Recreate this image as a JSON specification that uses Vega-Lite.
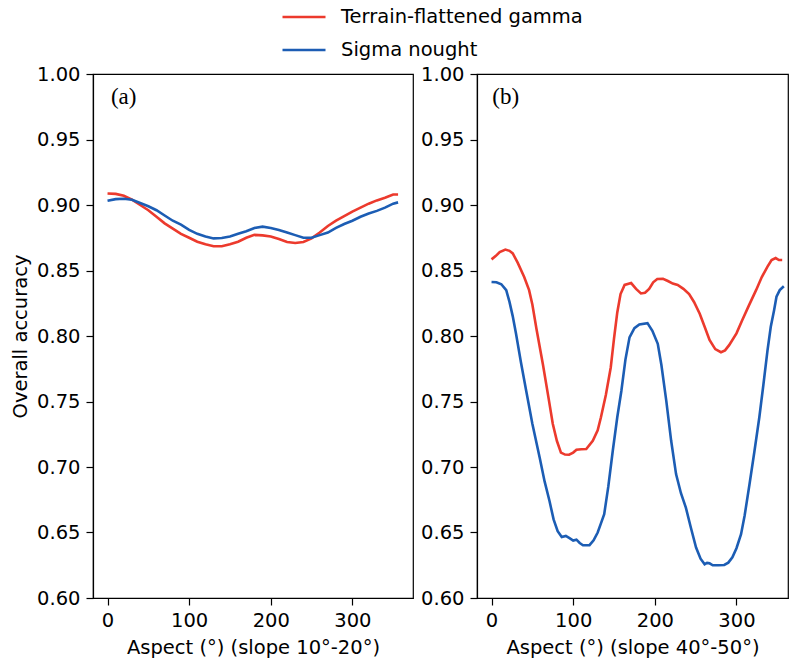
{
  "$schema": "https://vega.github.io/schema/vega-lite/v6.json",
  "background": "white",
  "padding": {"left": 9, "top": -6, "right": 0, "bottom": 0},
  "spacing": 5,
  "config": {
    "view": {"stroke": "black", "strokeWidth": 1.2},
    "font": "DejaVu Sans",
    "axis": {
      "labelFont": "DejaVu Sans", "labelFontSize": 19.5, "labelColor": "black",
      "titleFont": "DejaVu Sans", "titleFontSize": 19.5, "titleFontWeight": "normal", "titleColor": "black",
      "grid": false, "tickSize": 7, "tickColor": "black", "tickWidth": 1.2,
      "domainColor": "black", "domainWidth": 1.2, "labelPadding": 6
    },
    "legend": {
      "orient": "none", "legendX": 188, "legendY": -80,
      "labelFont": "DejaVu Sans", "labelFontSize": 19.5, "labelColor": "black", "labelLimit": 400,
      "symbolType": "stroke", "symbolSize": 1849, "symbolStrokeWidth": 2.6,
      "rowPadding": -17, "labelOffset": 14, "title": null
    }
  },
  "datasets": {
    "curves": [
      {"p":"a","s":"Terrain-flattened gamma","x":0,"y":0.9088},
      {"p":"a","s":"Terrain-flattened gamma","x":10,"y":0.9085},
      {"p":"a","s":"Terrain-flattened gamma","x":20,"y":0.907},
      {"p":"a","s":"Terrain-flattened gamma","x":30,"y":0.904},
      {"p":"a","s":"Terrain-flattened gamma","x":40,"y":0.9},
      {"p":"a","s":"Terrain-flattened gamma","x":50,"y":0.896},
      {"p":"a","s":"Terrain-flattened gamma","x":60,"y":0.891},
      {"p":"a","s":"Terrain-flattened gamma","x":70,"y":0.886},
      {"p":"a","s":"Terrain-flattened gamma","x":80,"y":0.882},
      {"p":"a","s":"Terrain-flattened gamma","x":90,"y":0.878},
      {"p":"a","s":"Terrain-flattened gamma","x":100,"y":0.875},
      {"p":"a","s":"Terrain-flattened gamma","x":110,"y":0.872},
      {"p":"a","s":"Terrain-flattened gamma","x":120,"y":0.87},
      {"p":"a","s":"Terrain-flattened gamma","x":130,"y":0.8685},
      {"p":"a","s":"Terrain-flattened gamma","x":140,"y":0.8685},
      {"p":"a","s":"Terrain-flattened gamma","x":150,"y":0.87},
      {"p":"a","s":"Terrain-flattened gamma","x":160,"y":0.872},
      {"p":"a","s":"Terrain-flattened gamma","x":170,"y":0.875},
      {"p":"a","s":"Terrain-flattened gamma","x":180,"y":0.8772},
      {"p":"a","s":"Terrain-flattened gamma","x":190,"y":0.8768},
      {"p":"a","s":"Terrain-flattened gamma","x":200,"y":0.876},
      {"p":"a","s":"Terrain-flattened gamma","x":210,"y":0.874},
      {"p":"a","s":"Terrain-flattened gamma","x":220,"y":0.8718},
      {"p":"a","s":"Terrain-flattened gamma","x":230,"y":0.871},
      {"p":"a","s":"Terrain-flattened gamma","x":240,"y":0.8718},
      {"p":"a","s":"Terrain-flattened gamma","x":250,"y":0.8745},
      {"p":"a","s":"Terrain-flattened gamma","x":260,"y":0.879},
      {"p":"a","s":"Terrain-flattened gamma","x":270,"y":0.884},
      {"p":"a","s":"Terrain-flattened gamma","x":280,"y":0.888},
      {"p":"a","s":"Terrain-flattened gamma","x":290,"y":0.8915},
      {"p":"a","s":"Terrain-flattened gamma","x":300,"y":0.895},
      {"p":"a","s":"Terrain-flattened gamma","x":310,"y":0.898},
      {"p":"a","s":"Terrain-flattened gamma","x":320,"y":0.901},
      {"p":"a","s":"Terrain-flattened gamma","x":330,"y":0.9035},
      {"p":"a","s":"Terrain-flattened gamma","x":340,"y":0.9055},
      {"p":"a","s":"Terrain-flattened gamma","x":350,"y":0.908},
      {"p":"a","s":"Terrain-flattened gamma","x":356,"y":0.908},
      {"p":"a","s":"Sigma nought","x":0,"y":0.9032},
      {"p":"a","s":"Sigma nought","x":10,"y":0.9045},
      {"p":"a","s":"Sigma nought","x":20,"y":0.9048},
      {"p":"a","s":"Sigma nought","x":30,"y":0.904},
      {"p":"a","s":"Sigma nought","x":40,"y":0.9015},
      {"p":"a","s":"Sigma nought","x":50,"y":0.899},
      {"p":"a","s":"Sigma nought","x":60,"y":0.896},
      {"p":"a","s":"Sigma nought","x":70,"y":0.892},
      {"p":"a","s":"Sigma nought","x":80,"y":0.888},
      {"p":"a","s":"Sigma nought","x":90,"y":0.885},
      {"p":"a","s":"Sigma nought","x":100,"y":0.881},
      {"p":"a","s":"Sigma nought","x":110,"y":0.878},
      {"p":"a","s":"Sigma nought","x":120,"y":0.876},
      {"p":"a","s":"Sigma nought","x":130,"y":0.8745},
      {"p":"a","s":"Sigma nought","x":140,"y":0.8748},
      {"p":"a","s":"Sigma nought","x":150,"y":0.876},
      {"p":"a","s":"Sigma nought","x":160,"y":0.878},
      {"p":"a","s":"Sigma nought","x":170,"y":0.88},
      {"p":"a","s":"Sigma nought","x":180,"y":0.8825},
      {"p":"a","s":"Sigma nought","x":190,"y":0.8835},
      {"p":"a","s":"Sigma nought","x":200,"y":0.8825},
      {"p":"a","s":"Sigma nought","x":210,"y":0.881},
      {"p":"a","s":"Sigma nought","x":220,"y":0.879},
      {"p":"a","s":"Sigma nought","x":230,"y":0.877},
      {"p":"a","s":"Sigma nought","x":240,"y":0.875},
      {"p":"a","s":"Sigma nought","x":250,"y":0.875},
      {"p":"a","s":"Sigma nought","x":260,"y":0.877},
      {"p":"a","s":"Sigma nought","x":270,"y":0.879},
      {"p":"a","s":"Sigma nought","x":280,"y":0.8825},
      {"p":"a","s":"Sigma nought","x":290,"y":0.8855},
      {"p":"a","s":"Sigma nought","x":300,"y":0.888},
      {"p":"a","s":"Sigma nought","x":310,"y":0.891},
      {"p":"a","s":"Sigma nought","x":320,"y":0.8935},
      {"p":"a","s":"Sigma nought","x":330,"y":0.8955},
      {"p":"a","s":"Sigma nought","x":340,"y":0.898},
      {"p":"a","s":"Sigma nought","x":350,"y":0.901},
      {"p":"a","s":"Sigma nought","x":356,"y":0.902},
      {"p":"b","s":"Terrain-flattened gamma","x":0,"y":0.8585},
      {"p":"b","s":"Terrain-flattened gamma","x":5,"y":0.861},
      {"p":"b","s":"Terrain-flattened gamma","x":10,"y":0.864},
      {"p":"b","s":"Terrain-flattened gamma","x":17,"y":0.866},
      {"p":"b","s":"Terrain-flattened gamma","x":22,"y":0.865},
      {"p":"b","s":"Terrain-flattened gamma","x":26,"y":0.863},
      {"p":"b","s":"Terrain-flattened gamma","x":32,"y":0.856},
      {"p":"b","s":"Terrain-flattened gamma","x":40,"y":0.845},
      {"p":"b","s":"Terrain-flattened gamma","x":46,"y":0.835},
      {"p":"b","s":"Terrain-flattened gamma","x":50,"y":0.824},
      {"p":"b","s":"Terrain-flattened gamma","x":55,"y":0.8055},
      {"p":"b","s":"Terrain-flattened gamma","x":63,"y":0.778},
      {"p":"b","s":"Terrain-flattened gamma","x":70,"y":0.752},
      {"p":"b","s":"Terrain-flattened gamma","x":75,"y":0.733},
      {"p":"b","s":"Terrain-flattened gamma","x":80,"y":0.72},
      {"p":"b","s":"Terrain-flattened gamma","x":85,"y":0.711},
      {"p":"b","s":"Terrain-flattened gamma","x":90,"y":0.7095},
      {"p":"b","s":"Terrain-flattened gamma","x":95,"y":0.7094},
      {"p":"b","s":"Terrain-flattened gamma","x":100,"y":0.711},
      {"p":"b","s":"Terrain-flattened gamma","x":104,"y":0.7132},
      {"p":"b","s":"Terrain-flattened gamma","x":110,"y":0.7135},
      {"p":"b","s":"Terrain-flattened gamma","x":116,"y":0.7137},
      {"p":"b","s":"Terrain-flattened gamma","x":124,"y":0.72},
      {"p":"b","s":"Terrain-flattened gamma","x":130,"y":0.728},
      {"p":"b","s":"Terrain-flattened gamma","x":134,"y":0.738},
      {"p":"b","s":"Terrain-flattened gamma","x":140,"y":0.755},
      {"p":"b","s":"Terrain-flattened gamma","x":146,"y":0.776},
      {"p":"b","s":"Terrain-flattened gamma","x":150,"y":0.798},
      {"p":"b","s":"Terrain-flattened gamma","x":154,"y":0.818},
      {"p":"b","s":"Terrain-flattened gamma","x":158,"y":0.832},
      {"p":"b","s":"Terrain-flattened gamma","x":163,"y":0.839},
      {"p":"b","s":"Terrain-flattened gamma","x":171,"y":0.8404},
      {"p":"b","s":"Terrain-flattened gamma","x":177,"y":0.836},
      {"p":"b","s":"Terrain-flattened gamma","x":183,"y":0.8325},
      {"p":"b","s":"Terrain-flattened gamma","x":188,"y":0.833},
      {"p":"b","s":"Terrain-flattened gamma","x":193,"y":0.836},
      {"p":"b","s":"Terrain-flattened gamma","x":198,"y":0.841},
      {"p":"b","s":"Terrain-flattened gamma","x":203,"y":0.8435},
      {"p":"b","s":"Terrain-flattened gamma","x":210,"y":0.8437},
      {"p":"b","s":"Terrain-flattened gamma","x":216,"y":0.842},
      {"p":"b","s":"Terrain-flattened gamma","x":222,"y":0.84},
      {"p":"b","s":"Terrain-flattened gamma","x":228,"y":0.839},
      {"p":"b","s":"Terrain-flattened gamma","x":235,"y":0.836},
      {"p":"b","s":"Terrain-flattened gamma","x":242,"y":0.832},
      {"p":"b","s":"Terrain-flattened gamma","x":248,"y":0.826},
      {"p":"b","s":"Terrain-flattened gamma","x":255,"y":0.817},
      {"p":"b","s":"Terrain-flattened gamma","x":261,"y":0.807},
      {"p":"b","s":"Terrain-flattened gamma","x":267,"y":0.797},
      {"p":"b","s":"Terrain-flattened gamma","x":274,"y":0.79},
      {"p":"b","s":"Terrain-flattened gamma","x":281,"y":0.7876},
      {"p":"b","s":"Terrain-flattened gamma","x":286,"y":0.789},
      {"p":"b","s":"Terrain-flattened gamma","x":291,"y":0.793},
      {"p":"b","s":"Terrain-flattened gamma","x":300,"y":0.802},
      {"p":"b","s":"Terrain-flattened gamma","x":307,"y":0.812},
      {"p":"b","s":"Terrain-flattened gamma","x":315,"y":0.823},
      {"p":"b","s":"Terrain-flattened gamma","x":324,"y":0.835},
      {"p":"b","s":"Terrain-flattened gamma","x":331,"y":0.845},
      {"p":"b","s":"Terrain-flattened gamma","x":338,"y":0.853},
      {"p":"b","s":"Terrain-flattened gamma","x":343,"y":0.858},
      {"p":"b","s":"Terrain-flattened gamma","x":348,"y":0.8595},
      {"p":"b","s":"Terrain-flattened gamma","x":352,"y":0.858},
      {"p":"b","s":"Terrain-flattened gamma","x":356,"y":0.858},
      {"p":"b","s":"Sigma nought","x":0,"y":0.8412},
      {"p":"b","s":"Sigma nought","x":6,"y":0.841},
      {"p":"b","s":"Sigma nought","x":12,"y":0.8395},
      {"p":"b","s":"Sigma nought","x":18,"y":0.835},
      {"p":"b","s":"Sigma nought","x":22,"y":0.826},
      {"p":"b","s":"Sigma nought","x":26,"y":0.815},
      {"p":"b","s":"Sigma nought","x":30,"y":0.8017},
      {"p":"b","s":"Sigma nought","x":36,"y":0.78},
      {"p":"b","s":"Sigma nought","x":42.5,"y":0.758},
      {"p":"b","s":"Sigma nought","x":50,"y":0.733},
      {"p":"b","s":"Sigma nought","x":59,"y":0.707},
      {"p":"b","s":"Sigma nought","x":65,"y":0.689},
      {"p":"b","s":"Sigma nought","x":71,"y":0.674},
      {"p":"b","s":"Sigma nought","x":76,"y":0.66},
      {"p":"b","s":"Sigma nought","x":81,"y":0.651},
      {"p":"b","s":"Sigma nought","x":86,"y":0.6465},
      {"p":"b","s":"Sigma nought","x":91,"y":0.6474},
      {"p":"b","s":"Sigma nought","x":96,"y":0.6455},
      {"p":"b","s":"Sigma nought","x":100,"y":0.6438},
      {"p":"b","s":"Sigma nought","x":104,"y":0.6445},
      {"p":"b","s":"Sigma nought","x":108,"y":0.642},
      {"p":"b","s":"Sigma nought","x":112,"y":0.6403},
      {"p":"b","s":"Sigma nought","x":120,"y":0.6403},
      {"p":"b","s":"Sigma nought","x":125,"y":0.644},
      {"p":"b","s":"Sigma nought","x":130,"y":0.65},
      {"p":"b","s":"Sigma nought","x":134,"y":0.657},
      {"p":"b","s":"Sigma nought","x":138,"y":0.664},
      {"p":"b","s":"Sigma nought","x":143,"y":0.685},
      {"p":"b","s":"Sigma nought","x":148.5,"y":0.7124},
      {"p":"b","s":"Sigma nought","x":154,"y":0.738},
      {"p":"b","s":"Sigma nought","x":159,"y":0.758},
      {"p":"b","s":"Sigma nought","x":164,"y":0.782},
      {"p":"b","s":"Sigma nought","x":169,"y":0.799},
      {"p":"b","s":"Sigma nought","x":175,"y":0.806},
      {"p":"b","s":"Sigma nought","x":181,"y":0.8088},
      {"p":"b","s":"Sigma nought","x":191,"y":0.8098},
      {"p":"b","s":"Sigma nought","x":197,"y":0.804},
      {"p":"b","s":"Sigma nought","x":203.6,"y":0.794},
      {"p":"b","s":"Sigma nought","x":208,"y":0.778},
      {"p":"b","s":"Sigma nought","x":214,"y":0.7507},
      {"p":"b","s":"Sigma nought","x":220,"y":0.72},
      {"p":"b","s":"Sigma nought","x":226,"y":0.6946},
      {"p":"b","s":"Sigma nought","x":232,"y":0.68},
      {"p":"b","s":"Sigma nought","x":238,"y":0.669},
      {"p":"b","s":"Sigma nought","x":244,"y":0.654},
      {"p":"b","s":"Sigma nought","x":250.5,"y":0.6385},
      {"p":"b","s":"Sigma nought","x":256,"y":0.63},
      {"p":"b","s":"Sigma nought","x":261,"y":0.6258},
      {"p":"b","s":"Sigma nought","x":264,"y":0.6268},
      {"p":"b","s":"Sigma nought","x":267,"y":0.6265},
      {"p":"b","s":"Sigma nought","x":271,"y":0.625},
      {"p":"b","s":"Sigma nought","x":278,"y":0.625},
      {"p":"b","s":"Sigma nought","x":285,"y":0.6252},
      {"p":"b","s":"Sigma nought","x":290,"y":0.627},
      {"p":"b","s":"Sigma nought","x":295,"y":0.631},
      {"p":"b","s":"Sigma nought","x":300,"y":0.638},
      {"p":"b","s":"Sigma nought","x":305.6,"y":0.6487},
      {"p":"b","s":"Sigma nought","x":310,"y":0.663},
      {"p":"b","s":"Sigma nought","x":316,"y":0.687},
      {"p":"b","s":"Sigma nought","x":322,"y":0.712},
      {"p":"b","s":"Sigma nought","x":328,"y":0.738},
      {"p":"b","s":"Sigma nought","x":333,"y":0.763},
      {"p":"b","s":"Sigma nought","x":338,"y":0.789},
      {"p":"b","s":"Sigma nought","x":342,"y":0.807},
      {"p":"b","s":"Sigma nought","x":346,"y":0.8195},
      {"p":"b","s":"Sigma nought","x":349,"y":0.83},
      {"p":"b","s":"Sigma nought","x":353,"y":0.835},
      {"p":"b","s":"Sigma nought","x":358,"y":0.838}
    ]
  },
  "hconcat": [
    {
      "width": 320, "height": 524,
      "layer": [
        {
          "data": {"name": "curves"},
          "transform": [{"filter": "datum.p === 'a'"}],
          "mark": {"type": "line", "strokeWidth": 2.6, "clip": true},
          "encoding": {
            "x": {"field": "x", "type": "quantitative", "scale": {"domain": [-17.8, 374.3], "nice": false, "zero": false},
                  "axis": {"values": [0, 100, 200, 300], "title": "Aspect (°) (slope 10°-20°)", "titlePadding": 9}},
            "y": {"field": "y", "type": "quantitative", "scale": {"domain": [0.6, 1.0], "nice": false, "zero": false},
                  "axis": {"values": [0.6, 0.65, 0.7, 0.75, 0.8, 0.85, 0.9, 0.95, 1.0], "format": ".2f", "title": "Overall accuracy", "titlePadding": 6}},
            "color": {"field": "s", "type": "nominal",
                      "scale": {"domain": ["Terrain-flattened gamma", "Sigma nought"], "range": ["#ec3a2d", "#1c5db4"]}},
            "order": {"field": "x", "type": "quantitative"}
          }
        },
        {
          "data": {"values": [{"label": "(a)"}]},
          "mark": {"type": "text", "font": "Liberation Serif", "fontSize": 23, "align": "left", "baseline": "middle", "color": "black"},
          "encoding": {
            "x": {"datum": 4.2, "type": "quantitative"},
            "y": {"datum": 0.9824, "type": "quantitative"},
            "text": {"field": "label"}
          }
        }
      ]
    },
    {
      "width": 311, "height": 524,
      "layer": [
        {
          "data": {"name": "curves"},
          "transform": [{"filter": "datum.p === 'b'"}],
          "mark": {"type": "line", "strokeWidth": 2.6, "clip": true},
          "encoding": {
            "x": {"field": "x", "type": "quantitative", "scale": {"domain": [-17.8, 363.1], "nice": false, "zero": false},
                  "axis": {"values": [0, 100, 200, 300], "title": "Aspect (°) (slope 40°-50°)", "titlePadding": 9}},
            "y": {"field": "y", "type": "quantitative", "scale": {"domain": [0.6, 1.0], "nice": false, "zero": false},
                  "axis": {"values": [0.6, 0.65, 0.7, 0.75, 0.8, 0.85, 0.9, 0.95, 1.0], "format": ".2f", "title": null}},
            "color": {"field": "s", "type": "nominal",
                      "scale": {"domain": ["Terrain-flattened gamma", "Sigma nought"], "range": ["#ec3a2d", "#1c5db4"]}},
            "order": {"field": "x", "type": "quantitative"}
          }
        },
        {
          "data": {"values": [{"label": "(b)"}]},
          "mark": {"type": "text", "font": "Liberation Serif", "fontSize": 23, "align": "left", "baseline": "middle", "color": "black"},
          "encoding": {
            "x": {"datum": 1, "type": "quantitative"},
            "y": {"datum": 0.9824, "type": "quantitative"},
            "text": {"field": "label"}
          }
        }
      ]
    }
  ]
}
